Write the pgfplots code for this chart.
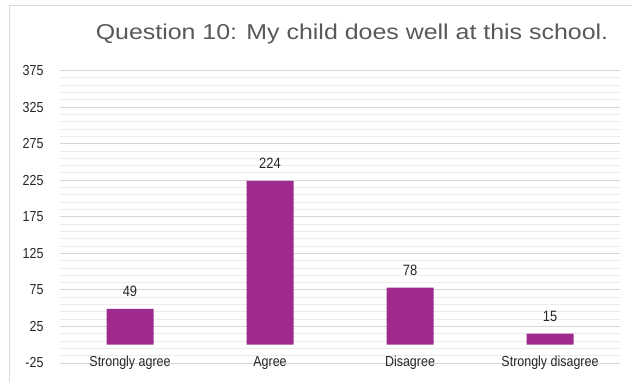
\documentclass[border=0pt]{standalone}
\usepackage{pgfplots}
\pgfplotsset{compat=1.18}
\usepackage{fontspec}
\setmainfont{Liberation Sans}
\newfontfamily\narrowfont[FakeStretch=0.86]{Liberation Sans}
\newfontfamily\titlefont[FakeStretch=1.16]{Liberation Sans}
\definecolor{barc}{RGB}{158,42,142}
\definecolor{majgrid}{RGB}{214,214,214}
\definecolor{mingrid}{RGB}{236,236,236}
\definecolor{titlec}{RGB}{89,89,89}
\definecolor{framec}{RGB}{217,217,217}
\begin{document}
\begin{tikzpicture}
\path[use as bounding box] (0,0) rectangle (632pt,382pt);
\fill[white] (0,0) rectangle (632pt,382pt);
\draw[framec, line width=1pt] (9.5pt,0) -- (9.5pt,376pt) -- (632pt,376pt);
\begin{axis}[
  at={(60pt,19pt)}, anchor=south west,
  scale only axis, width=560pt, height=292.5pt,
  xmin=-0.5, xmax=3.5, ymin=-25, ymax=375,
  ytick={-25,25,...,375},
  minor y tick num=4,
  xtick={0,1,2,3},
  xticklabels={Strongly agree, Agree, Disagree, Strongly disagree},
  ymajorgrids, yminorgrids,
  major grid style={majgrid, line width=0.8pt},
  minor grid style={mingrid, line width=0.8pt},
  axis line style={draw=none},
  major tick length=0pt, minor tick length=0pt,
  tick label style={font=\narrowfont\fontsize{14.5}{16}\selectfont, text=black!85},
  xticklabel style={anchor=center, yshift=0pt},
  yticklabel style={anchor=east, xshift=-13pt},
  /pgf/number format/assume math mode=true,
  ybar, bar width=47pt,
  nodes near coords,
  nodes near coords style={font=\narrowfont\fontsize{15}{17}\selectfont, text=black!85, anchor=south, inner sep=0pt, yshift=12pt},
]
\addplot[fill=barc, draw=none] coordinates {(0,49) (1,224) (2,78) (3,15)};
\end{axis}
\node[font=\titlefont\fontsize{21.5}{24}\selectfont, text=titlec, anchor=base, inner sep=0pt] at (352pt, 342pt) {Question 10: My child does well at this school.};
\end{tikzpicture}
\end{document}
